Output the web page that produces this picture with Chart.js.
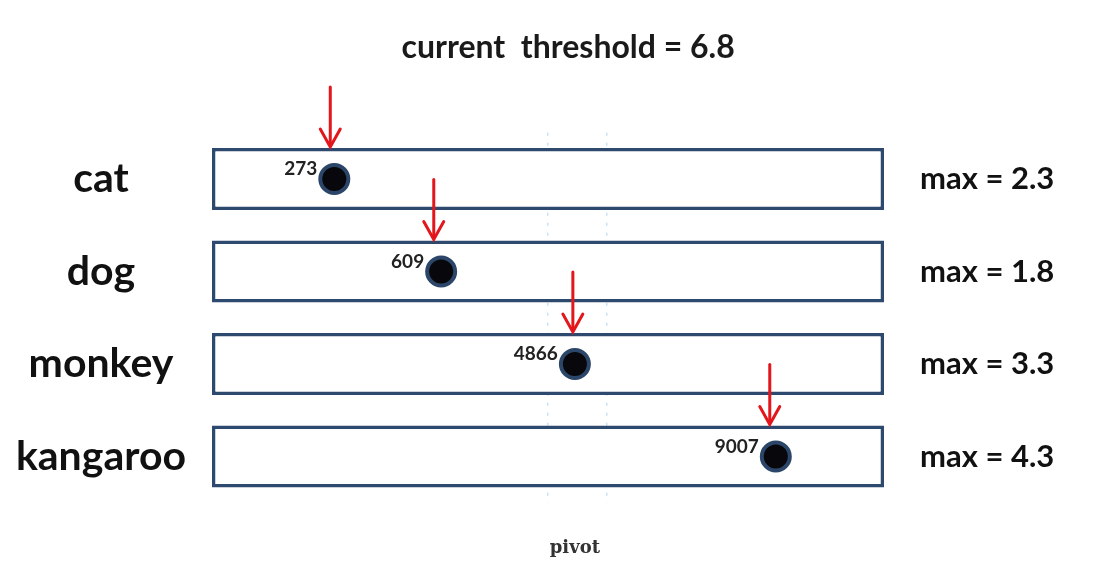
<!DOCTYPE html>
<html>
<head>
<meta charset="utf-8">
<script src="https://cdn.jsdelivr.net/npm/chart.js@4.4.1/dist/chart.umd.min.js"></script>
<style>
  body { margin: 0; background: #fff; }
  #wrap { width: 1097px; height: 582px; position: relative; }
</style>
</head>
<body>
<div id="wrap"><canvas id="chart"></canvas></div>
<script>
  // rows and their side labels
  const animals = ["cat", "dog", "monkey", "kangaroo"];
  const maxLabels = ["max = 2.3", "max = 1.8", "max = 3.3", "max = 4.3"];
  // position of each dot inside its box (0 = left edge, 1 = right edge)
  const dotPos = [0.182, 0.341, 0.540, 0.839];
  const dotLabels = ["273", "609", "4866", "9007"];
  // red arrows sit a little left of the dots
  const arrowPos = [0.176, 0.330, 0.537, 0.830];
  const boxSpan = [0, 1];
  const pivotLines = [0.5, 0.588];
  const pivotAt = 0.54;
  const titleText = "current  threshold = 6.8";
  const titleAt = 0.53;

  const overlay = {
    id: "overlay",
    afterDatasetsDraw(chart) {
      const ctx = chart.ctx;
      const xs = chart.scales.x;
      const boxes = chart.getDatasetMeta(0).data;
      const dots = chart.getDatasetMeta(1).data;
      ctx.save();

      // title
      ctx.fillStyle = "#1a1a1a";
      ctx.font = "bold 32px Lato";
      ctx.textAlign = "center";
      ctx.textBaseline = "middle";
      ctx.fillText(titleText, xs.getPixelForValue(titleAt), 48);

      // numbers next to the dots
      ctx.font = "bold 19px Lato";
      ctx.textAlign = "right";
      ctx.fillStyle = "#222";
      dots.forEach((p, i) => {
        ctx.fillText(dotLabels[i], p.x - 17, p.y - 10);
      });

      // arrows pointing down at the box tops
      ctx.strokeStyle = "#e3161b";
      ctx.lineWidth = 3;
      ctx.lineCap = "round";
      boxes.forEach((b, i) => {
        const x = xs.getPixelForValue(arrowPos[i]);
        const tip = b.y - b.height / 2 - 1;
        ctx.beginPath();
        ctx.moveTo(x, tip - 60);
        ctx.lineTo(x, tip - 2);
        ctx.stroke();
        ctx.beginPath();
        ctx.moveTo(x - 10, tip - 18);
        ctx.lineTo(x, tip);
        ctx.lineTo(x + 10, tip - 18);
        ctx.stroke();
      });
      ctx.restore();
    }
  };

  new Chart(document.getElementById("chart"), {
    type: "bar",
    data: {
      labels: animals,
      datasets: [
        {
          order: 1,
          data: animals.map(() => boxSpan),
          backgroundColor: "#ffffff",
          borderColor: "#2d4a6e",
          borderWidth: 3.5,
          borderSkipped: false,
          barPercentage: 0.67,
          categoryPercentage: 1
        },
        {
          type: "scatter",
          order: 0,
          data: animals.map((a, i) => ({ x: dotPos[i], y: a })),
          pointRadius: 14,
          pointHoverRadius: 14,
          backgroundColor: "#07070c",
          borderColor: "#2b4668",
          borderWidth: 4
        }
      ]
    },
    options: {
      indexAxis: "y",
      responsive: true,
      maintainAspectRatio: false,
      animation: false,
      events: [],
      layout: { padding: { top: 132.75, left: 0, right: 0, bottom: 0 } },
      plugins: {
        legend: { display: false },
        tooltip: { enabled: false }
      },
      scales: {
        x: {
          type: "linear",
          min: 0,
          max: 1,
          afterBuildTicks: (s) => {
            s.ticks = pivotLines.concat([pivotAt]).map((v) => ({ value: v }));
          },
          afterFit: (s) => { s.height = 79.25; },
          ticks: {
            autoSkip: false,
            maxRotation: 0,
            padding: 35,
            color: "#333",
            font: { family: "DejaVu Serif", size: 18, weight: "bold" },
            callback: (v) => (v === pivotAt ? "pivot" : "")
          },
          grid: {
            drawTicks: false,
            lineWidth: 1.5,
            color: (c) => (c.tick && c.tick.value === pivotAt ? "rgba(0,0,0,0)" : "rgba(70,160,225,0.3)")
          },
          border: { display: false, dash: [3, 7] }
        },
        y: {
          type: "category",
          position: "left",
          offset: true,
          afterFit: (s) => { s.width = 212; },
          grid: { display: false },
          border: { display: false },
          ticks: {
            crossAlign: "center",
            padding: 18,
            color: "#111",
            font: { family: "Lato", size: 41, weight: "bold" }
          }
        },
        y2: {
          type: "category",
          labels: maxLabels,
          position: "right",
          offset: true,
          afterFit: (s) => { s.width = 213; },
          grid: { display: false },
          border: { display: false },
          ticks: {
            crossAlign: "near",
            padding: 28,
            color: "#111",
            font: { family: "Lato", size: 31, weight: "bold" }
          }
        }
      }
    },
    plugins: [overlay]
  });
</script>
</body>
</html>
